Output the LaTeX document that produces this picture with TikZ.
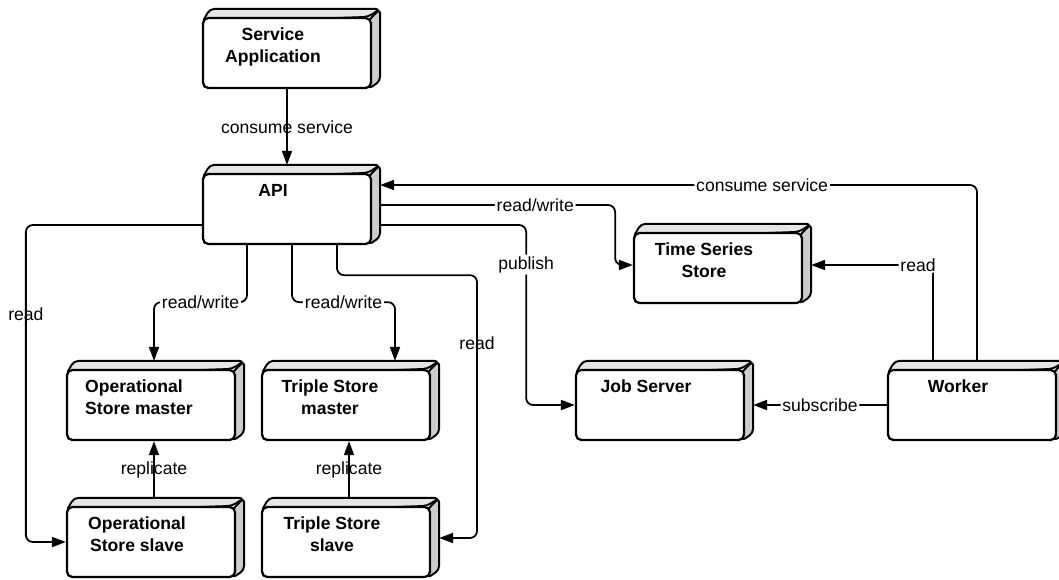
\documentclass[tikz,border=0pt]{standalone}
\usepackage{fontspec}
\setmainfont{Liberation Sans}
\usetikzlibrary{arrows.meta, backgrounds}

\begin{document}
\begin{tikzpicture}[
        x=0.02cm, y=-0.02cm,
        devbox/.style={draw, line width=1.3pt, rounded corners=3pt, rectangle, minimum width=3.36cm, minimum height=1.4cm, fill=white},
        face/.style={draw, line width=1.1pt, rounded corners=2.5pt, line join=round},
        boxtitle/.style={anchor=north, align=center, font=\bfseries, inner sep=0pt},
        arrow/.style={-{Triangle[length=0.28cm, width=0.2cm]}, line width=1pt, rounded corners=4pt},
        lbl/.style={fill=white, inner sep=1pt},
        lblv/.style={inner sep=1pt}
    ]
    \useasboundingbox (0,0) rectangle (1059,579);

    % --- Boxes ---
    \node[devbox] (svc) at (287, 53) {};
    \node[devbox] (api) at (287, 209) {};
    \node[devbox] (tss) at (718, 268) {};
    \node[devbox] (osm) at (151, 405) {};
    \node[devbox] (tsm) at (346, 405) {};
    \node[devbox] (job) at (660, 405) {};
    \node[devbox] (wrk) at (972, 405) {};
    \node[devbox] (oss) at (151, 542) {};
    \node[devbox] (tsl) at (346, 542) {};

    % --- 3D faces ---
    \begin{scope}[on background layer]
    \foreach \n in {svc, api, tss, osm, tsm, job, wrk, oss, tsl} {
        \draw[face, fill=gray!20] ([shift={(0,6)}]\n.north west) -- ++(8,-14) -- ([shift={(8,-8)}]\n.north east) -- ([shift={(-4,0)}]\n.north east) -- cycle;
        \draw[face, fill=gray!40] ([shift={(-4,4)}]\n.north east) -- ++(12,-12) -- ([shift={(8,-8)}]\n.south east) -- ([shift={(-4,0)}]\n.south east) -- cycle;
    }
    \end{scope}

    % --- Titles ---
    \node[boxtitle] (svctext) at ([shift={(-14,11)}]svc.north) {Service\\Application};
    \node[boxtitle] (apitext) at ([shift={(-14,11)}]api.north) {API};
    \node[boxtitle] (tsstext) at ([shift={(-14,11)}]tss.north) {Time Series\\Store};
    \node[boxtitle, anchor=north west, align=left] (osmtext) at ([shift={(19,11)}]osm.north west) {Operational\\Store master};
    \node[boxtitle] (tsmtext) at ([shift={(-16,11)}]tsm.north) {Triple Store\\master};
    \node[boxtitle] (jobtext) at ([shift={(-14,11)}]job.north) {Job Server};
    \node[boxtitle] (wrktext) at ([shift={(-14,11)}]wrk.north) {Worker};
    \node[boxtitle] (osstext) at ([shift={(-14,11)}]oss.north) {Operational\\Store slave};
    \node[boxtitle] (tsltext) at ([shift={(-14,11)}]tsl.north) {Triple Store\\slave};

    % --- Arrows ---
    \draw[arrow] (svc.south) -- node[lblv]{consume service} ([shift={(0,-8)}]api.north);
    \draw[arrow] ([shift={(0,16)}]api.west) -- ++(-176,0) |- node[lblv, pos=0.14]{read} (oss.west);
    \draw[arrow] ([shift={(-40,0)}]api.south) -- ++(0,57) -| node[lbl, pos=0.25]{read/write} ([shift={(3,-8)}]osm.north);
    \draw[arrow] ([shift={(5,0)}]api.south) -- ++(0,57) -| node[lbl, pos=0.25]{read/write} ([shift={(49,-8)}]tsm.north);
    \draw[arrow] ([shift={(50,0)}]api.south) -- ++(0,30) -- ++(140,0) |- node[lblv, pos=0.13]{read} ([shift={(8,-4)}]tsl.east);
    \draw[arrow] ([shift={(8,-4)}]api.east) -- node[lbl, pos=0.66]{read/write} ++(235,0) |- ([shift={(0,-3)}]tss.west);
    \draw[arrow] ([shift={(8,16)}]api.east) -- ++(146,0) |- node[lbl, pos=0.11]{publish} (job.west);
    \draw[arrow] ([shift={(5,-8)}]wrk.north) |- node[lbl, pos=0.68]{consume service} ([shift={(8,-24)}]api.east);
    \draw[arrow] ([shift={(-39,-8)}]wrk.north) |- node[lbl, pos=0.5, anchor=east, xshift=3pt]{read} ([shift={(8,-3)}]tss.east);
    \draw[arrow] (wrk.west) -- node[lbl]{subscribe} ([shift={(8,0)}]job.east);

    % --- Replication ---
    \draw[arrow] ([shift={(3,-8)}]oss.north) -- node[lblv]{replicate} ([shift={(3,0)}]osm.south);
    \draw[arrow] ([shift={(3,-8)}]tsl.north) -- node[lblv]{replicate} ([shift={(3,0)}]tsm.south);

\end{tikzpicture}
\end{document}
